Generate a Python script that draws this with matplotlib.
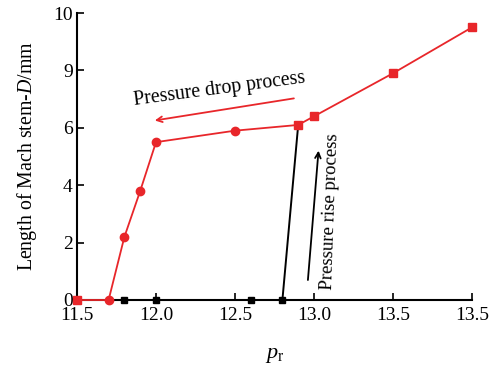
import matplotlib
matplotlib.use("Agg")
import matplotlib.pyplot as plt

plt.rcParams['font.family'] = ['Liberation Serif', 'DejaVu Serif']
plt.rcParams['mathtext.fontset'] = 'custom'
plt.rcParams['mathtext.rm'] = 'Liberation Serif'
plt.rcParams['mathtext.it'] = 'Liberation Serif:italic'

# data (axis position units)
red_x = [11.5, 11.7, 11.8, 11.9, 12.0, 12.5, 12.9, 13.0, 13.5, 14.0]
red_y = [0.0, 0.0, 2.2, 3.8, 5.5, 5.9, 6.1, 6.4, 7.9, 9.5]
red_markers = ['s', 'o', 'o', 'o', 'o', 'o', 's', 's', 's', 's']
black_x = [11.5, 11.8, 12.0, 12.6, 12.8, 12.9]
black_y = [0.0, 0.0, 0.0, 0.0, 0.0, 6.1]
x_ticks = [11.5, 12.0, 12.5, 13.0, 13.5, 14.0]
x_tick_labels = ["11.5", "12.0", "12.5", "13.0", "13.5", "13.5"]
y_ticks = [0, 2, 4, 6, 8, 10]
y_tick_labels = ["0", "2", "4", "6", "9", "10"]

RED = '#e8262a'

fig = plt.figure(figsize=(4.95, 3.67), dpi=100)
ax = fig.add_axes([77/495, 1-300/367, (472-77)/495, (300-13)/367])

ax.plot(black_x, black_y, color='black', lw=1.4, marker='s', ms=5,
        markevery=[1, 2, 3, 4], clip_on=False, zorder=2)
ax.plot(red_x, red_y, color=RED, lw=1.3, clip_on=False, zorder=3)
for x, y, m in zip(red_x, red_y, red_markers):
    ax.plot([x], [y], marker=m, color=RED, ms=5.5 if m == 's' else 6,
            ls='none', clip_on=False, zorder=4)

ax.set_xlim(11.5, 14.0)
ax.set_ylim(0, 10)
ax.set_xticks(x_ticks)
ax.set_xticklabels(x_tick_labels)
ax.set_yticks(y_ticks)
ax.set_yticklabels(y_tick_labels)
ax.tick_params(direction='in', length=5, width=1.2, labelsize=14, pad=3)
ax.tick_params(axis='x', pad=5)
ax.spines['top'].set_visible(False)
ax.spines['right'].set_visible(False)
for s in ('left', 'bottom'):
    ax.spines[s].set_linewidth(1.5)

ax.set_xlabel(r'$p_\mathrm{r}$', fontsize=16, labelpad=16)
ax.set_ylabel(r'Length of Mach stem-$D$/mm', fontsize=14.3, labelpad=10)

# annotations
ax.annotate('', xy=(11.975, 6.24), xytext=(12.89, 7.04),
            arrowprops=dict(arrowstyle='->', color=RED, lw=1.3))
ax.text(12.40, 7.35, 'Pressure drop process', fontsize=14.2, rotation=7.5,
        ha='center', va='center')
ax.annotate('', xy=(13.03, 5.3), xytext=(12.96, 0.6),
            arrowprops=dict(arrowstyle='->', color='black', lw=1.3))
ax.text(13.10, 3.1, 'Pressure rise process', fontsize=13.5, rotation=88,
        ha='center', va='center')

fig.savefig('out.png', dpi=100)
